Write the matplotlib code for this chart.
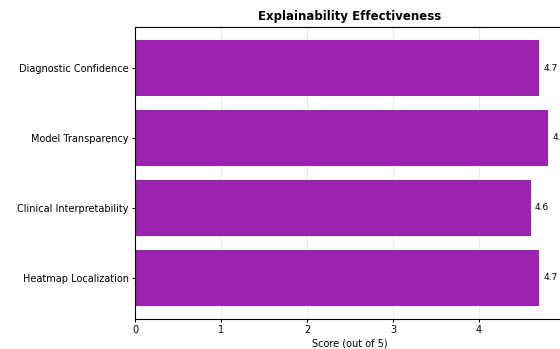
import numpy as np
import matplotlib.pyplot as plt

# Data
categories = ["Heatmap Localization", "Clinical Interpretability",
              "Model Transparency", "Diagnostic Confidence"]
scores = [4.7, 4.6, 4.8, 4.7]

fig = plt.figure(figsize=(5.6, 3.49), dpi=100)
ax = fig.add_axes([0.241, 0.086, 0.768, 0.837])

y = np.arange(len(categories))
bars = ax.barh(y, scores, color="#9C22B0", zorder=2)
ax.set_yticks(y)
ax.set_yticklabels(categories, fontsize=7.2)
ax.set_xlim(0, 5)
ax.set_xticks([0, 1, 2, 3, 4, 5])
ax.tick_params(axis="both", labelsize=7, length=2.5, pad=2)
ax.set_xlabel("Score (out of 5)", fontsize=7, labelpad=2)
ax.set_title("Explainability Effectiveness", fontsize=8.5, fontweight="bold", pad=5)
ax.grid(axis="x", alpha=0.25, zorder=3)

for b, s in zip(bars, scores):
    ax.text(b.get_width() + 0.05, b.get_y() + b.get_height() / 2, str(s),
            va="center", ha="left", fontsize=6.5)

fig.savefig("out.png", dpi=100)
